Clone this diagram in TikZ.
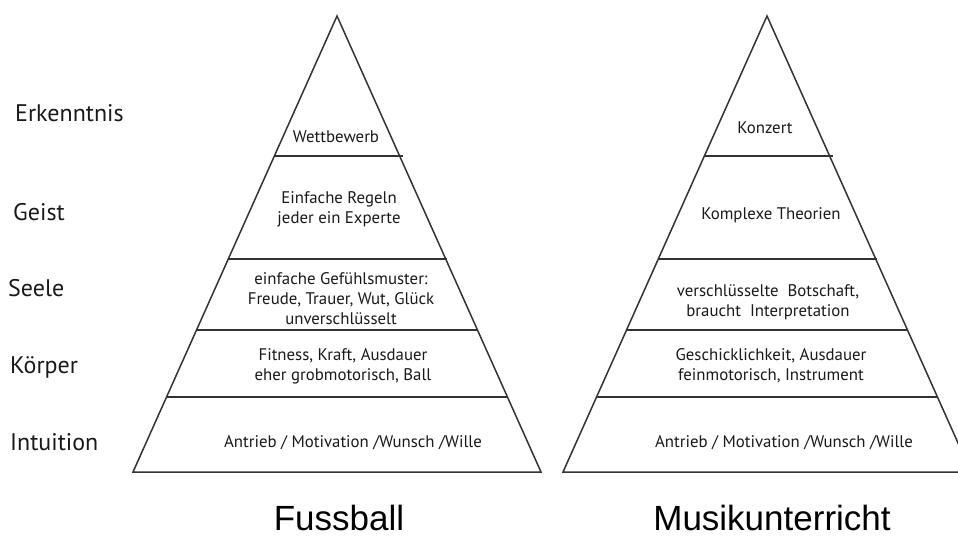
\documentclass[tikz,border=0pt]{standalone}
\usepackage{fontspec}
\setmainfont{PT Sans}
\newfontfamily\titlefont{Liberation Sans}
\usetikzlibrary{calc}

\begin{document}
\begin{tikzpicture}[x=1pt, y=-1pt,
	inner/.style={font=\fontsize{16.8}{20}\selectfont, align=center, text=black!90, inner sep=0pt},
	level/.style={font=\fontsize{24}{26}\selectfont, anchor=base west, text=black!90, inner sep=0pt},
	title/.style={font=\titlefont\fontsize{35}{40}\selectfont, anchor=base, inner sep=0pt},
	edge/.style={line width=1.5pt, color=black!80, line join=miter}]
			%%%%% START %%%%%
			
			\useasboundingbox (0, 0) rectangle (958, 540);
			\clip (0, 0) rectangle (958, 540);
			
			% left pyramid
			\draw[edge] (337, 16) -- (541, 472) -- (133, 472) -- cycle;
			\draw[edge] (274.4, 156) -- (403, 156);
			\draw[edge] (228.3, 259) -- (447, 259);
			\draw[edge] (196.5, 330) -- (478, 330);
			\draw[edge] (166.5, 397) -- (508, 397);
			
			% right pyramid
			\draw[edge] (767, 16) -- (971, 472) -- (563, 472) -- cycle;
			\draw[edge] (704.4, 156) -- (833, 156);
			\draw[edge] (658.3, 259) -- (877, 259);
			\draw[edge] (626.5, 330) -- (908, 330);
			\draw[edge] (596.5, 397) -- (938, 397);
			
			% levels
			\node[level] (erkenntnis) at (15, 122) {Erkenntnis};
			\node[level] (geist) at (13, 221) {Geist};
			\node[level] (seele) at (8, 296) {Seele};
			\node[level] (koerper) at (10, 373) {Körper};
			\node[level] (intuition) at (10, 450) {Intuition};
			
			% Fussball
			\node[inner] (fWettbewerb) at (336, 137) {Wettbewerb};
			\node[inner] (fRegeln) at (339, 209) {Einfache Regeln\\jeder ein Experte};
			\node[inner] (fGefuehl) at (341, 299) {einfache Gefühlsmuster:\\Freude, Trauer, Wut, Glück\\unverschlüsselt};
			\node[inner] (fKoerper) at (343, 366) {Fitness, Kraft, Ausdauer\\eher grobmotorisch, Ball};
			\node[inner] (fAntrieb) at (353, 443) {Antrieb / Motivation /Wunsch /Wille};
			
			% Musikunterricht
			\node[inner] (mKonzert) at (765, 128) {Konzert};
			\node[inner] (mTheorien) at (771, 215) {Komplexe Theorien};
			\node[inner] (mBotschaft) at (768, 302) {verschlüsselte\ \ Botschaft,\\braucht\ \ Interpretation};
			\node[inner] (mKoerper) at (771, 366) {Geschicklichkeit, Ausdauer\\feinmotorisch, Instrument};
			\node[inner] (mAntrieb) at (784, 443) {Antrieb / Motivation /Wunsch /Wille};
			
			\node[title] (fussball) at (339, 530) {Fussball};
			\node[title] (musik) at (772, 530) {Musikunterricht};
			
			%%%%% END %%%%%
\end{tikzpicture}
\end{document}
